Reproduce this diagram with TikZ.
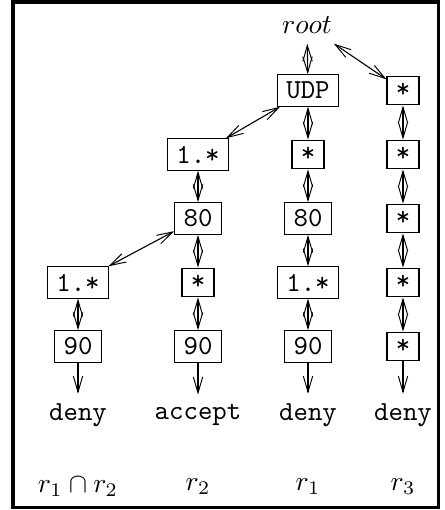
\documentclass[tikz,border=0pt]{standalone}
\usetikzlibrary{arrows.meta}
\begin{document}
\begin{tikzpicture}[x=0.3636pt,y=-0.3636pt,
  box/.style={draw,font=\ttfamily,inner xsep=3.2pt,inner ysep=2.6pt},
  res/.style={font=\ttfamily,inner sep=3.33pt},
  lab/.style={inner sep=1pt},
  bi/.style={{Straight Barb[length=5.8pt,width=3.4pt,line width=0.35pt]}-{Straight Barb[length=5.8pt,width=3.4pt,line width=0.35pt]}},
  one/.style={-{Straight Barb[length=5.8pt,width=3.4pt,line width=0.35pt]}}]
\useasboundingbox (0,0) rectangle (444,510);
\draw[line width=1.1pt] (13,2) rectangle (438.5,507.5);
% root
\node (root) at (307,25.5) {$root$};
% column 3
\node[box] (udp) at (308,90.5) {UDP};
\node[box] (c3a) at (308,154.5) {*};
\node[box] (c3b) at (308,218.5) {80};
\node[box] (c3c) at (308,282.5) {1.*};
\node[box] (c3d) at (308,346.5) {90};
% column 2
\node[box] (c2a) at (198,154.5) {1.*};
\node[box] (c2b) at (198,218.5) {80};
\node[box] (c2c) at (198,282.5) {*};
\node[box] (c2d) at (198,346.5) {90};
% column 1
\node[box] (c1a) at (78,282.5) {1.*};
\node[box] (c1b) at (78,346.5) {90};
% column 4
\node[box] (s1) at (403,90.5) {*};
\node[box] (s2) at (403,154.5) {*};
\node[box] (s3) at (403,218.5) {*};
\node[box] (s4) at (403,282.5) {*};
\node[box] (s5) at (403,346.5) {*};
% results
\node[res] (d1) at (78,415) {deny};
\node[res] (d2) at (198,415) {accept};
\node[res] (d3) at (308,415) {deny};
\node[res] (d4) at (403,415) {deny};
% labels
\node[lab] (l1) at (78,487) {$r_1\cap r_2$};
\node[lab] (l2) at (198,487) {$r_2$};
\node[lab] (l3) at (308,487) {$r_1$};
\node[lab] (l4) at (403,487) {$r_3$};
% connectors
\draw[bi] (root) -- (udp);
\draw[bi] (root) -- (s1);
\draw[bi] (udp) -- (c2a);
\draw[bi] (udp) -- (c3a);
\draw[bi] (c3a) -- (c3b);
\draw[bi] (c3b) -- (c3c);
\draw[bi] (c3c) -- (c3d);
\draw[bi] (c2a) -- (c2b);
\draw[bi] (c2b) -- (c1a);
\draw[bi] (c2b) -- (c2c);
\draw[bi] (c2c) -- (c2d);
\draw[bi] (c1a) -- (c1b);
\draw[bi] (s1) -- (s2);
\draw[bi] (s2) -- (s3);
\draw[bi] (s3) -- (s4);
\draw[bi] (s4) -- (s5);
\draw[one] (c1b) -- (d1);
\draw[one] (c2d) -- (d2);
\draw[one] (c3d) -- (d3);
\draw[one] (s5) -- (d4);
\end{tikzpicture}
\end{document}
